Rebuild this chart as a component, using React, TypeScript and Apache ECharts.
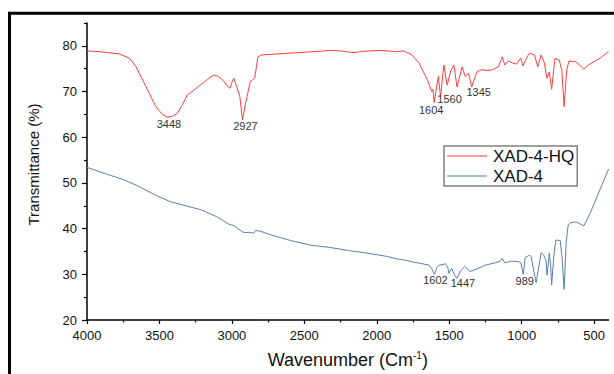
import React, { useEffect, useRef } from "react";
import * as echarts from "echarts";

// XAD-4-HQ spectrum (wavenumber cm-1, transmittance %)
const hqWave = [4000, 3911, 3850, 3775, 3707, 3661, 3593, 3525, 3480, 3448, 3410, 3377, 3340, 3309, 3230, 3170, 3127, 3093, 3059, 3037, 3014, 2996, 2986, 2968, 2945, 2927, 2905, 2895, 2873, 2843, 2830, 2820, 2798, 2700, 2548, 2400, 2321, 2250, 2161, 2100, 1980, 1900, 1866, 1820, 1764, 1707, 1650, 1621, 1612, 1604, 1575, 1560, 1537, 1514, 1490, 1468, 1446, 1411, 1389, 1366, 1345, 1309, 1275, 1240, 1207, 1161, 1134, 1116, 1093, 1060, 1036, 1007, 991, 965, 945, 911, 889, 866, 845, 825, 809, 793, 770, 741, 723, 707, 689, 673, 627, 600, 571, 540, 502, 450, 411, 400];
const hqTrans = [78.9, 78.7, 78.5, 78.2, 77.3, 75.4, 71.1, 66.7, 65.0, 64.4, 64.6, 65.2, 67.2, 69.2, 71.1, 72.6, 73.6, 73.3, 72.4, 71.4, 70.7, 72.3, 72.9, 71.1, 68.9, 63.8, 67.5, 68.9, 72.2, 72.9, 75.5, 77.6, 78.0, 78.2, 78.5, 78.8, 79.0, 78.9, 78.5, 78.8, 79.0, 78.8, 78.7, 78.9, 78.2, 76.2, 72.5, 70.0, 70.5, 67.6, 73.3, 68.9, 75.8, 71.4, 74.5, 75.8, 71.0, 75.4, 73.3, 74.0, 71.0, 74.3, 74.8, 74.6, 74.7, 75.4, 77.6, 75.8, 76.7, 76.2, 76.0, 77.3, 75.6, 77.5, 78.4, 78.0, 75.4, 78.0, 76.5, 72.9, 74.3, 70.5, 77.3, 76.9, 74.7, 66.7, 74.7, 76.7, 76.5, 75.8, 74.9, 75.8, 76.5, 77.5, 78.5, 78.8];

// XAD-4 spectrum
const xadWave = [4000, 3880, 3746, 3639, 3532, 3425, 3318, 3211, 3104, 3023, 2983, 2950, 2916, 2880, 2850, 2836, 2800, 2729, 2595, 2461, 2328, 2194, 2060, 1926, 1866, 1790, 1750, 1700, 1639, 1620, 1602, 1585, 1570, 1525, 1510, 1502, 1484, 1468, 1447, 1420, 1393, 1355, 1300, 1252, 1184, 1150, 1134, 1116, 1070, 1025, 1005, 989, 975, 945, 934, 915, 900, 885, 866, 850, 832, 825, 809, 800, 793, 778, 764, 734, 722, 707, 693, 679, 660, 627, 600, 571, 540, 508, 460, 420, 400];
const xadTrans = [53.4, 52.1, 50.7, 49.2, 47.4, 45.9, 45.0, 44.1, 42.6, 41.0, 40.6, 39.8, 39.1, 39.2, 39.0, 39.6, 39.4, 38.6, 37.4, 36.4, 35.9, 35.2, 34.6, 33.9, 33.4, 33.0, 32.7, 32.4, 32.0, 31.2, 30.0, 31.5, 32.0, 32.3, 31.5, 30.2, 31.3, 30.2, 29.1, 30.8, 31.7, 30.6, 31.3, 32.0, 32.5, 32.8, 33.5, 32.5, 32.9, 32.8, 32.5, 30.0, 33.7, 34.2, 33.8, 30.5, 28.2, 31.0, 34.7, 34.3, 33.1, 29.8, 34.6, 32.0, 27.7, 34.0, 37.5, 37.4, 34.0, 26.7, 36.8, 40.8, 41.3, 41.5, 41.1, 40.6, 42.5, 44.8, 48.5, 51.5, 53.0];

const hqPeaks = [3448, 2927, 1604, 1560, 1345];
const xadPeaks = [1602, 1447, 989];

const xTicks = [4000, 3500, 3000, 2500, 2000, 1500, 1000, 500];
const xMinorTicks = [3750, 3250, 2750, 2250, 1750, 1250, 750];
const yTicks = [20, 30, 40, 50, 60, 70, 80];
const yMinorTicks = [25, 35, 45, 55, 65, 75, 85];

const seriesNames = ["XAD-4-HQ", "XAD-4"];

// label placement (pixel offsets from the peak point)
const hqLabelOffsets = [[2, 7], [3, 6], [-3, 7.5], [9, 2.5], [7, 5.5]];
const xadLabelOffsets = [[1, 6], [6, 5], [1.5, 6.5]];

const FONT = "Liberation Sans, Arial, sans-serif";

function pairs(w: number[], t: number[]) {
  return w.map((x, i) => [x, t[i]]);
}

function valueAt(w: number[], t: number[], x: number) {
  let best = 0;
  for (let i = 1; i < w.length; i++) {
    if (Math.abs(w[i] - x) < Math.abs(w[best] - x)) best = i;
  }
  return t[best];
}

function peakMarks(peaks: number[], w: number[], t: number[], offsets: number[][]) {
  return {
    symbol: "circle",
    symbolSize: 1,
    silent: true,
    itemStyle: { color: "rgba(0,0,0,0)" },
    label: {
      show: true,
      position: "inside",
      color: "#333",
      fontSize: 11,
      fontFamily: FONT,
    },
    data: peaks.map((p, i) => ({
      coord: [p, valueAt(w, t, p)],
      label: { formatter: String(p), offset: offsets[i] },
    })),
  };
}

export default function App() {
  const ref = useRef<HTMLDivElement>(null);

  useEffect(() => {
    if (!ref.current) return;
    const chart = echarts.init(ref.current, undefined, { renderer: "svg" });
    const grid = { left: 87, top: 23, width: 528, height: 297 };
    const option: any = {
      animation: false,
      backgroundColor: "#fff",
      grid,
      legend: {
        orient: "vertical",
        left: 444,
        top: 146,
        padding: [1, 3, 1, 3],
        icon: "rect",
        itemWidth: 40,
        itemHeight: 1.2,
        itemGap: 2,
        borderColor: "#808080",
        borderWidth: 1.5,
        textStyle: { fontSize: 17, lineHeight: 18, color: "#111", fontFamily: FONT, padding: [0, 0, 0, 1] },
        data: seriesNames,
      },
      xAxis: [
        {
          type: "value",
          min: 400,
          max: 4000,
          inverse: true,
          name: "Wavenumber (Cm{sup|-1})",
          nameLocation: "middle",
          nameGap: 30,
          nameTextStyle: {
            fontSize: 18,
            color: "#111",
            fontFamily: FONT,
            rich: { sup: { fontSize: 10, color: "#111", fontFamily: FONT, padding: [0, 0, 9, 0] } },
          },
          splitLine: { show: false },
          axisLine: { lineStyle: { color: "#000", width: 1.5 } },
          axisTick: { length: 4, customValues: xTicks, lineStyle: { color: "#000", width: 1.2 } },
          axisLabel: {
            customValues: xTicks,
            formatter: (v: number) => String(v),
            margin: 9,
            fontSize: 13,
            color: "#111",
            fontFamily: FONT,
          },
        },
        {
          type: "value",
          min: 400,
          max: 4000,
          inverse: true,
          position: "bottom",
          splitLine: { show: false },
          axisLine: { show: false },
          axisTick: { length: 2.5, customValues: xMinorTicks, lineStyle: { color: "#000", width: 1.2 } },
          axisLabel: { show: false },
        },
      ],
      yAxis: [
        {
          type: "value",
          min: 20,
          max: 85,
          name: "Transmittance (%)",
          nameLocation: "middle",
          nameGap: 46,
          nameTextStyle: { fontSize: 15, color: "#111", fontFamily: FONT, padding: [0, 0, 0, 14] },
          splitLine: { show: false },
          axisLine: { show: true, lineStyle: { color: "#000", width: 1.5 } },
          axisTick: { length: 5, customValues: yTicks, lineStyle: { color: "#000", width: 1.2 } },
          axisLabel: {
            customValues: yTicks,
            formatter: (v: number) => String(v),
            margin: 10,
            fontSize: 13,
            color: "#111",
            fontFamily: FONT,
          },
        },
        {
          type: "value",
          min: 20,
          max: 85,
          position: "left",
          splitLine: { show: false },
          axisLine: { show: false },
          axisTick: { length: 3, customValues: yMinorTicks, lineStyle: { color: "#000", width: 1.2 } },
          axisLabel: { show: false },
        },
      ],
      series: [
        {
          name: seriesNames[0],
          type: "line",
          xAxisIndex: 0,
          yAxisIndex: 0,
          symbol: "none",
          data: pairs(hqWave, hqTrans),
          lineStyle: { color: "#ff3d3d", width: 1 },
          itemStyle: { color: "#ff3d3d" },
          markPoint: peakMarks(hqPeaks, hqWave, hqTrans, hqLabelOffsets),
        },
        {
          name: seriesNames[1],
          type: "line",
          xAxisIndex: 0,
          yAxisIndex: 0,
          symbol: "none",
          data: pairs(xadWave, xadTrans),
          lineStyle: { color: "#5a7fb0", width: 1 },
          itemStyle: { color: "#5a7fb0" },
          markPoint: peakMarks(xadPeaks, xadWave, xadTrans, xadLabelOffsets),
        },
      ],
      graphic: [
        {
          type: "rect",
          z: 100,
          silent: true,
          shape: { x: 9.5, y: 13.3, width: 700, height: 500 },
          style: { fill: "none", stroke: "#000", lineWidth: 3 },
        },
      ],
    };
    chart.setOption(option);
    return () => chart.dispose();
  }, []);

  return (
    <div
      ref={ref}
      style={{ position: "fixed", left: 0, top: 0, width: 614, height: 374 }}
    />
  );
}
